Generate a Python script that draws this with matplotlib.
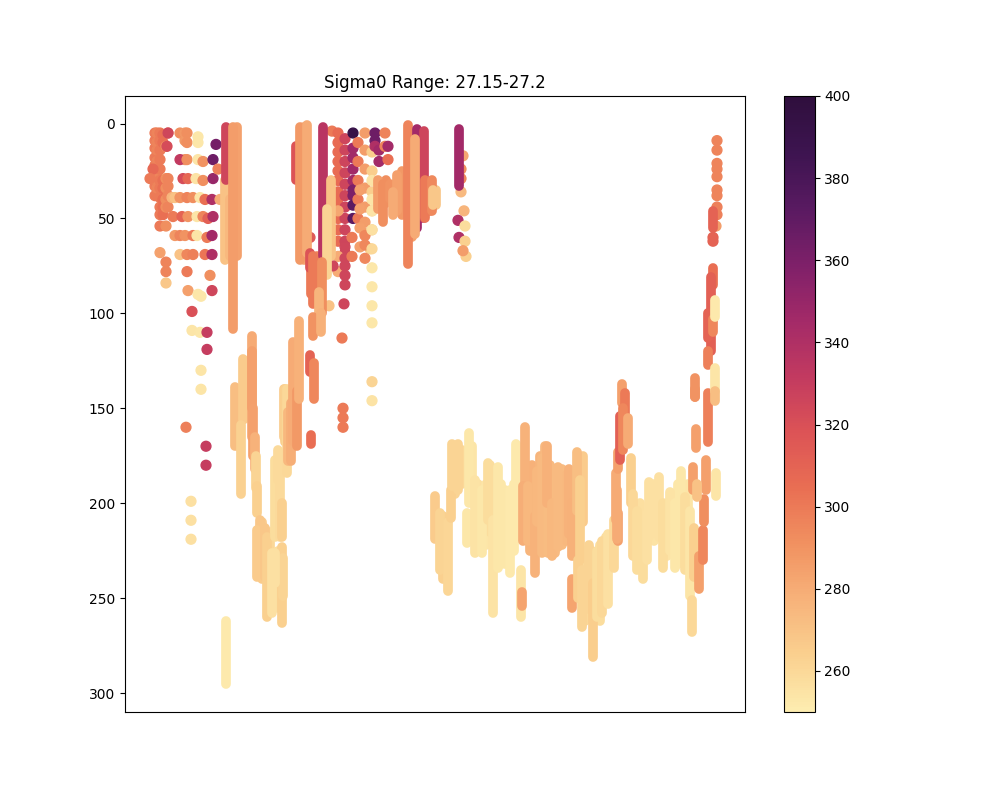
import matplotlib
matplotlib.use('Agg')
import matplotlib.pyplot as plt
from matplotlib.colors import LinearSegmentedColormap, Normalize
from matplotlib.cm import ScalarMappable

# colour scale
scale_stops = ['#fdedb0', '#fad08f', '#f7b27a', '#f19160', '#e96e53', '#dc5356',
               '#c23a60', '#a32a68', '#7e2069', '#591a61', '#3d1450', '#2f0f3d']

# single casts: x position, depths, oxygen value
dot_x = [155, 157, 160, 163, 166, 168, 153, 150,
         168, 180, 185, 187, 198, 167, 185, 216,
         180, 187, 198, 203, 213, 183, 188, 196, 203, 213, 218, 172,
         175, 180, 187, 193, 200, 205, 212, 220,
         173, 182, 188, 197, 203, 208, 213,
         175, 180, 185, 193, 197, 207, 212,
         180, 187, 193, 205, 212, 160, 166, 166,
         187, 210, 188, 212, 198, 201, 192, 192, 200, 207, 207,
         201, 201, 186, 206, 206, 191, 191, 191, 226,
         332, 338, 345, 353, 353, 353, 353, 358, 365, 372, 375, 375, 370, 379, 385, 388, 388,
         338, 345, 352, 360, 365, 372, 372, 333, 344, 343, 342, 338, 329, 372, 372, 372, 372,
         310, 372,
         463, 461, 461, 461, 464, 458, 465, 459, 465, 466, 463,
         717, 717, 717, 717, 716, 713]
dot_depths = [[5, 9, 13, 18, 22, 28, 33, 38], [5, 10, 14, 20, 26, 30, 34], [5, 9, 14, 19, 24, 30, 34, 39, 44, 48, 54], [6, 10, 30, 34, 40, 44, 48], [12, 29, 34, 40, 44, 54], [5, 29, 33, 38, 44], [24], [29],
              [5], [5], [5, 9], [5, 10], [7, 10], [12], [19], [11],
              [19], [19], [19], [20], [19], [29], [29], [29], [30], [29], [24], [39],
              [39], [39], [39], [39], [39], [40], [40], [40],
              [49], [49], [49], [49], [49], [50], [49],
              [59], [59], [59], [59], [59], [60], [59],
              [69], [69], [69], [69], [69], [68], [73, 78], [84],
              [78], [80], [88], [88], [90], [91], [99], [109], [110], [110], [119],
              [130], [140], [160], [170], [180], [199], [209], [219], [30],
              [4], [5, 10, 15, 20, 25, 30, 36, 40, 45, 50, 56, 62], [8, 14, 20, 26, 32, 38, 44, 50, 56, 62, 68], [5], [13, 18, 24, 30], [35, 38], [43, 50], [10, 20, 30, 40, 50], [5, 14, 24, 34, 44, 52, 58], [15, 25, 36, 46, 56], [5, 9], [12], [66], [14, 20], [5, 12, 34], [12], [19],
              [70, 78], [65, 71, 75, 80, 85], [60, 70], [35, 45, 55, 65], [59, 64, 71], [30, 46], [66], [75], [95], [150, 155, 160], [113], [46], [96], [76, 86, 96, 105], [136], [146], [56],
              [60], [40],
              [17], [24], [29], [36], [46], [51], [54], [60], [62], [70], [67],
              [9, 14], [21, 24, 28], [35, 38], [44, 48], [54], [60, 62]]
dot_vals = [300, 296, 300, 304, 292, 296, 308, 300,
            325, 292, 288, 292, 253, 322, 288, 362,
            332, 292, 254, 290, 365, 322, 308, 255, 292, 350, 298, 276,
            270, 290, 296, 292, 254, 304, 340, 280,
            300, 310, 290, 254, 296, 312, 340,
            288, 296, 290, 300, 254, 300, 345,
            270, 295, 298, 302, 340, 284, 296, 268,
            300, 292, 285, 325, 253, 253, 320, 254, 253, 330, 330,
            254, 254, 298, 330, 330, 256, 256, 256, 258,
            300, 306, 326, 392, 346, 360, 372, 300, 286, 265, 365, 340, 264, 346, 296, 345, 305,
            280, 325, 300, 285, 295, 255, 260, 325, 325, 300, 300, 282, 270, 253, 262, 255, 256,
            315, 254,
            282, 292, 296, 274, 276, 340, 258, 340, 264, 264, 286,
            296, 296, 296, 298, 286, 310]

# casts hidden behind the others, only their edges show
back_x = [455, 462, 472, 478, 486, 490, 501, 514, 530, 532, 540, 545, 550, 555, 562, 566, 575, 583, 585, 592, 600, 606, 640, 654, 667, 678, 688,
          238, 246, 262, 270, 278, 284, 294,
          237, 304, 311, 317, 402, 386, 412, 421, 430, 436]
back_top = [175, 172, 170, 190, 190, 180, 190, 190, 185, 180, 175, 170, 180, 185, 182, 185, 200, 175, 225, 225, 222, 218, 200, 190, 200, 190, 190,
            140, 125, 210, 215, 225, 140, 120,
            2, 2, 70, 70, 25, 30, 8, 5, 32, 35]
back_bottom = [195, 190, 200, 225, 222, 215, 232, 225, 225, 215, 225, 222, 225, 226, 222, 220, 228, 210, 262, 258, 262, 250, 232, 220, 228, 232, 232,
               170, 155, 240, 255, 255, 165, 170,
               70, 72, 90, 95, 48, 42, 60, 50, 46, 43]
back_vals = [262, 260, 254, 256, 254, 258, 253, 252, 276, 278, 276, 275, 274, 274, 273, 275, 270, 266, 260, 260, 258, 258, 257, 255, 255, 253, 254,
             272, 266, 266, 260, 258, 266, 280,
             284, 282, 300, 295, 288, 292, 285, 330, 298, 268]

# dense casts: x position, top depth, bottom depth, oxygen value
cast_x = [225, 226, 230, 233, 296, 300, 307, 323, 331, 327,
          310, 313, 322, 319, 313, 321,
          408, 417, 424, 415, 425, 432, 433, 378, 383, 390, 397, 393,
          459,
          235, 243, 241, 252, 252, 253, 255, 256, 257, 260, 257, 265, 267, 272, 282, 283, 275, 275, 280, 278, 282, 285, 287, 288, 291, 293, 297, 299,
          310, 314, 311, 226,
          435, 443, 440, 448, 451, 452, 458, 469, 467, 475, 482, 488, 493, 498, 505, 510, 516, 521, 522,
          525, 523, 528, 535, 537, 542, 548, 547, 552, 558, 569, 572, 577, 580, 572, 578, 582, 589, 593, 597, 602, 608, 614, 618, 617, 616, 618,
          622, 625, 620, 623, 628,
          631, 633, 637, 643, 649, 647, 659, 663, 670, 675, 681, 685, 690, 692, 694, 699, 703, 704, 706, 693, 697, 716, 695, 696, 708,
          713, 713, 713, 711, 708, 713, 715, 708, 695, 715, 715]
cast_top = [30, 2, 40, 2, 12, 2, 1, 2, 30, 45,
            68, 70, 73, 89, 102, 100,
            1, 3, 4, 8, 30, 30, 35, 30, 32, 32, 27, 36,
            3,
            139, 124, 159, 112, 120, 150, 165, 175, 191, 209, 214, 213, 218, 226, 223, 229, 226, 177, 184, 172, 200, 140, 140, 152, 147, 115, 141, 104,
            122, 126, 164, 262,
            196, 207, 205, 210, 193, 169, 169, 163, 205, 188, 193, 179, 209, 181, 193, 193, 169, 235, 247,
            160, 191, 191, 207, 183, 176, 188, 170, 200, 181, 182, 200, 173, 188, 240, 230, 235, 222, 242, 225, 220, 216, 209, 205, 193, 184, 173,
            137, 142, 154, 150, 155,
            176, 195, 204, 212, 189, 205, 186, 200, 194, 200, 183, 197, 204, 251, 213, 228, 214, 198, 177, 181, 190, 184, 134, 161, 142,
            46, 60, 76, 81, 100, 103, 93, 120, 140, 129, 141]
cast_bottom = [72, 30, 70, 108, 30, 72, 68, 70, 70, 80,
               76, 95, 100, 100, 112, 110,
               74, 55, 50, 58, 50, 46, 43, 45, 52, 40, 46, 48,
               33,
               170, 156, 195, 165, 150, 175, 182, 192, 205, 235, 239, 239, 260, 258, 263, 249, 242, 218, 218, 188, 218, 168, 184, 178, 178, 167, 170, 145,
               131, 145, 169, 295,
               219, 240, 235, 246, 208, 191, 193, 200, 221, 226, 226, 209, 258, 234, 232, 237, 193, 260, 254,
               191, 220, 220, 237, 210, 226, 226, 200, 228, 223, 216, 228, 204, 230, 255, 250, 265, 256, 281, 260, 258, 253, 234, 220, 219, 209, 182,
               147, 165, 177, 172, 169,
               200, 228, 235, 240, 218, 230, 218, 234, 225, 234, 207, 235, 249, 268, 239, 245, 230, 210, 193, 193, 197, 196, 144, 171, 168,
               55, 62, 85, 120, 113, 110, 102, 127, 144, 141, 146]
cast_vals = [270, 325, 275, 286, 318, 288, 280, 336, 270, 262,
             318, 300, 292, 276, 290, 278,
             296, 345, 326, 280, 300, 294, 268, 286, 292, 290, 285, 280,
             345,
             272, 266, 263, 280, 285, 284, 277, 262, 264, 268, 266, 268, 264, 256, 264, 262, 256, 258, 259, 259, 264, 264, 260, 275, 279, 280, 288, 278,
             310, 295, 305, 252,
             266, 264, 262, 261, 264, 262, 262, 253, 253, 255, 253, 258, 255, 253, 253, 252, 252, 254, 283,
             277, 279, 275, 277, 275, 274, 273, 278, 275, 274, 277, 278, 272, 264, 283, 264, 262, 262, 265, 258, 260, 256, 260, 285, 280, 280, 285,
             285, 300, 312, 295, 280,
             264, 260, 258, 258, 256, 256, 256, 258, 255, 253, 253, 258, 254, 260, 264, 285, 295, 292, 285, 285, 270, 254, 290, 285, 298,
             310, 310, 305, 312, 310, 295, 252, 298, 290, 254, 272]

y_ticks = [0, 50, 100, 150, 200, 250, 300]
title = 'Sigma0 Range: 27.15-27.2'


def plot_section():
    cmap = LinearSegmentedColormap.from_list('oxygen', scale_stops)
    norm = Normalize(vmin=250, vmax=400)
    fig, ax = plt.subplots(figsize=(10, 8))

    xs, ys, cs = [], [], []
    for x, depths, val in zip(dot_x, dot_depths, dot_vals, strict=True):
        for d in depths:
            xs.append(x)
            ys.append(d)
            cs.append(val)
    ax.scatter(xs, ys, c=cs, cmap=cmap, norm=norm, s=50, zorder=1)

    # round caps make each dense cast look like its overlapping dots
    ax.vlines(back_x, back_top, back_bottom, colors=cmap(norm(back_vals)),
              linewidth=7, capstyle='round', zorder=2)
    ax.vlines(cast_x, cast_top, cast_bottom, colors=cmap(norm(cast_vals)),
              linewidth=7, capstyle='round', zorder=3)

    ax.set_xlim(125, 745)
    ax.set_ylim(310, -14.5)
    ax.set_xticks([])
    ax.set_yticks(y_ticks)
    ax.set_title(title)
    fig.colorbar(ScalarMappable(norm=norm, cmap=cmap), ax=ax)
    plt.savefig('out.png', dpi=100)


if __name__ == '__main__':
    plot_section()
